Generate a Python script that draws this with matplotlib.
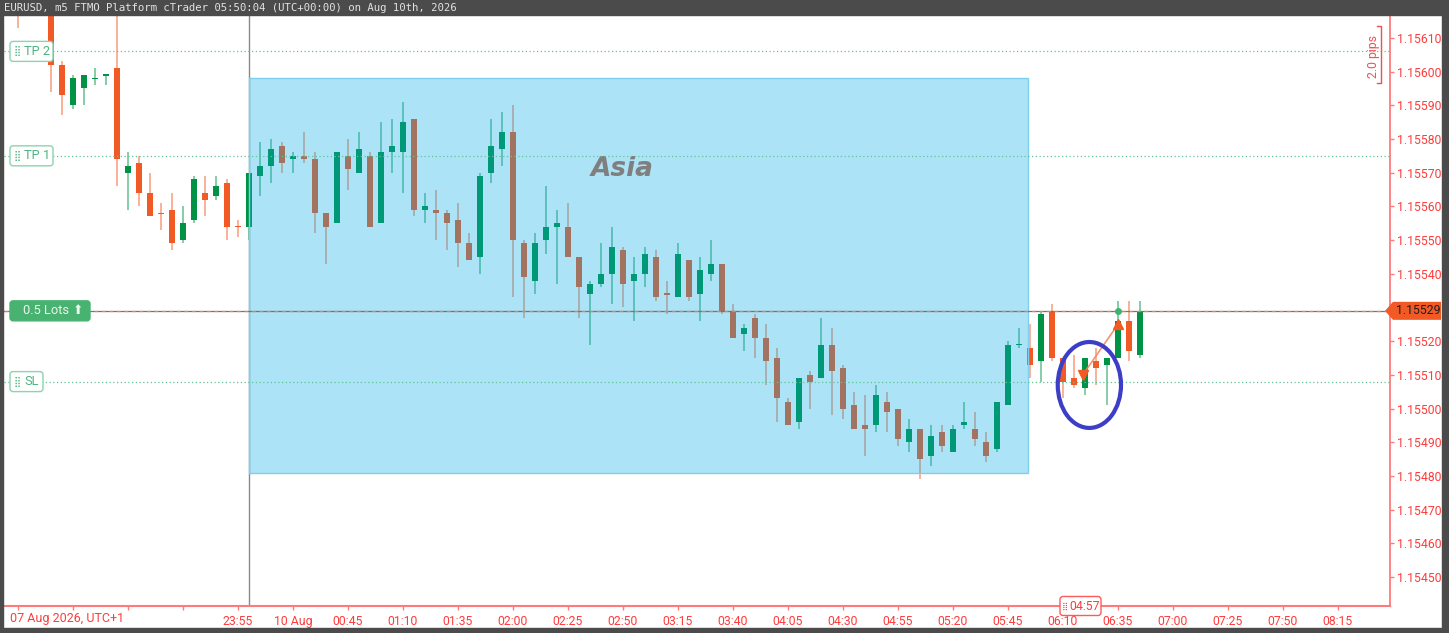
import matplotlib.pyplot as plt
from matplotlib.patches import Rectangle, Ellipse, Polygon, FancyBboxPatch
from matplotlib.transforms import Affine2D, blended_transform_factory

# EURUSD m5 candles, index 0 = 22:15 (07 Aug), index 21 = 00:00 (10 Aug)
opens = [1.15630, 1.15622, 1.15635, 1.15640, 1.15602, 1.15590, 1.15595, 1.15598, 1.15599, 1.15601,
         1.15570, 1.15573, 1.15564, 1.15558, 1.15559, 1.15550, 1.15556, 1.15564, 1.15563, 1.15567,
         1.15554, 1.15554, 1.15569, 1.15572, 1.15578, 1.15574, 1.15575, 1.15574, 1.15558, 1.15555,
         1.15575, 1.15570, 1.15575, 1.15555, 1.15576, 1.15576, 1.15586, 1.15559, 1.15559, 1.15558,
         1.15556, 1.15549, 1.15545, 1.15570, 1.15577, 1.15582, 1.15549, 1.15538, 1.15550, 1.15554,
         1.15554, 1.15545, 1.15534, 1.15537, 1.15540, 1.15547, 1.15538, 1.15540, 1.15545, 1.15534,
         1.15533, 1.15544, 1.15534, 1.15540, 1.15543, 1.15529, 1.15522, 1.15527, 1.15521, 1.15515,
         1.15502, 1.15496, 1.15510, 1.15509, 1.15519, 1.15512, 1.15501, 1.15495, 1.15495, 1.15502,
         1.15500, 1.15490, 1.15494, 1.15486, 1.15493, 1.15487, 1.15495, 1.15494, 1.15490, 1.15488,
         1.15501, 1.15519, 1.15518, 1.15514, 1.15529, 1.15515, 1.15509, 1.15506, 1.15514, 1.15513,
         1.15515, 1.15526, 1.15516]
highs = [1.15635, 1.15640, 1.15645, 1.15645, 1.15603, 1.15599, 1.15599, 1.15601, 1.15599, 1.15618,
         1.15576, 1.15575, 1.15570, 1.15561, 1.15564, 1.15560, 1.15569, 1.15569, 1.15569, 1.15568,
         1.15556, 1.15570, 1.15579, 1.15580, 1.15579, 1.15576, 1.15582, 1.15576, 1.15558, 1.15576,
         1.15580, 1.15582, 1.15576, 1.15585, 1.15586, 1.15591, 1.15586, 1.15564, 1.15565, 1.15559,
         1.15561, 1.15552, 1.15570, 1.15586, 1.15588, 1.15590, 1.15550, 1.15552, 1.15566, 1.15559,
         1.15561, 1.15545, 1.15538, 1.15549, 1.15554, 1.15548, 1.15545, 1.15548, 1.15547, 1.15538,
         1.15549, 1.15544, 1.15545, 1.15550, 1.15543, 1.15531, 1.15525, 1.15528, 1.15525, 1.15518,
         1.15503, 1.15509, 1.15511, 1.15527, 1.15524, 1.15513, 1.15505, 1.15504, 1.15507, 1.15505,
         1.15500, 1.15497, 1.15494, 1.15495, 1.15495, 1.15495, 1.15502, 1.15499, 1.15493, 1.15502,
         1.15520, 1.15524, 1.15525, 1.15529, 1.15531, 1.15515, 1.15516, 1.15515, 1.15518, 1.15515,
         1.15532, 1.15532, 1.15532]
lows = [1.15613, 1.15618, 1.15625, 1.15594, 1.15587, 1.15589, 1.15590, 1.15596, 1.15596, 1.15566,
        1.15559, 1.15560, 1.15557, 1.15553, 1.15547, 1.15549, 1.15555, 1.15557, 1.15562, 1.15550,
        1.15551, 1.15550, 1.15563, 1.15567, 1.15570, 1.15570, 1.15573, 1.15552, 1.15543, 1.15555,
        1.15565, 1.15570, 1.15554, 1.15555, 1.15570, 1.15564, 1.15557, 1.15555, 1.15550, 1.15547,
        1.15542, 1.15544, 1.15540, 1.15567, 1.15572, 1.15533, 1.15527, 1.15534, 1.15546, 1.15537,
        1.15545, 1.15527, 1.15519, 1.15536, 1.15531, 1.15530, 1.15526, 1.15536, 1.15532, 1.15528,
        1.15533, 1.15532, 1.15526, 1.15538, 1.15528, 1.15521, 1.15517, 1.15515, 1.15507, 1.15496,
        1.15495, 1.15494, 1.15500, 1.15509, 1.15498, 1.15497, 1.15494, 1.15486, 1.15493, 1.15493,
        1.15489, 1.15487, 1.15479, 1.15483, 1.15487, 1.15487, 1.15494, 1.15489, 1.15484, 1.15487,
        1.15501, 1.15518, 1.15509, 1.15508, 1.15514, 1.15503, 1.15506, 1.15504, 1.15507, 1.15501,
        1.15515, 1.15514, 1.15515]
closes = [1.15622, 1.15635, 1.15640, 1.15602, 1.15593, 1.15598, 1.15599, 1.15598, 1.15599, 1.15574,
          1.15572, 1.15564, 1.15557, 1.15558, 1.15549, 1.15555, 1.15568, 1.15562, 1.15566, 1.15554,
          1.15554, 1.15570, 1.15572, 1.15577, 1.15573, 1.15575, 1.15574, 1.15558, 1.15554, 1.15576,
          1.15571, 1.15577, 1.15554, 1.15576, 1.15578, 1.15585, 1.15559, 1.15560, 1.15558, 1.15555,
          1.15549, 1.15544, 1.15569, 1.15578, 1.15582, 1.15550, 1.15539, 1.15549, 1.15554, 1.15555,
          1.15545, 1.15536, 1.15537, 1.15540, 1.15548, 1.15537, 1.15540, 1.15546, 1.15533, 1.15534,
          1.15546, 1.15533, 1.15541, 1.15543, 1.15529, 1.15521, 1.15524, 1.15521, 1.15514, 1.15503,
          1.15495, 1.15509, 1.15508, 1.15519, 1.15511, 1.15500, 1.15494, 1.15494, 1.15504, 1.15499,
          1.15491, 1.15494, 1.15485, 1.15492, 1.15489, 1.15494, 1.15496, 1.15491, 1.15486, 1.15502,
          1.15519, 1.15519, 1.15513, 1.15528, 1.15515, 1.15508, 1.15507, 1.15515, 1.15512, 1.15515,
          1.15526, 1.15517, 1.15529]
doji_green = [7, 8, 91]

time_ticks = list(range(0, 121, 5))
time_labels = ['', '', '', '', '23:55', '10 Aug', '00:45', '01:10', '01:35', '02:00', '02:25',
               '02:50', '03:15', '03:40', '04:05', '04:30', '04:55', '05:20', '05:45', '06:10',
               '06:35', '07:00', '07:25', '07:50', '08:15']
price_ticks = [1.15450, 1.15460, 1.15470, 1.15480, 1.15490, 1.15500, 1.15510, 1.15520,
               1.15530, 1.15540, 1.15550, 1.15560, 1.15570, 1.15580, 1.15590, 1.15600, 1.15610]

current_price = 1.15529
tp2_price = 1.15606
tp1_price = 1.15575
sl_price = 1.15508

session_start, session_end = 21, 91.8
session_low, session_high = 1.15481, 1.15598

trade_x = [96.8, 100]
trade_y = [1.15510, 1.15525]
circle_center = (97.4, 1.15507)
circle_size = (5.75, 0.000255)

bull = '#009245'
bear = '#f15a24'
red_axis = '#ff7b7b'
red_text = '#ff3b3b'

plt.rcParams['font.family'] = ['Roboto', 'DejaVu Sans']

W, H = 1449, 633
fig = plt.figure(figsize=(W / 100, H / 100), dpi=100)
fig.patch.set_facecolor('white')
ax = fig.add_axes([4 / W, 1 - 606 / H, (1390 - 4) / W, (606 - 15) / H])
ax.set_xlim(-1.273, 124.73)
ax.set_ylim(1.154414, 1.156168)
px = Affine2D().scale(1 / W, 1 / H) + fig.transFigure

# candles
for i in range(len(opens)):
    o, h, l, c = opens[i], highs[i], lows[i], closes[i]
    up = c > o or (c == o and i in doji_green)
    col = bull if up else bear
    ax.vlines(i, l, h, color=col, lw=1.2, alpha=0.55, zorder=2)
    body = max(abs(c - o), 0.35e-5)
    ax.bar(i, body, width=0.62, bottom=min(o, c) - (body - abs(c - o)) / 2,
           color=col, linewidth=0, zorder=3)

# weekend separator and Asia session box
ax.axvline(session_start, color='#8a8a8a', lw=1, zorder=1.5)
ax.add_patch(Rectangle((session_start, session_low), session_end - session_start,
                       session_high - session_low, facecolor='#00aae6', alpha=0.32,
                       edgecolor='none', zorder=4))
ax.add_patch(Rectangle((session_start, session_low), session_end - session_start,
                       session_high - session_low, fill=False, edgecolor='#7fd0ef',
                       lw=1, zorder=4))
ax.text((session_start + session_end) / 2 - 1.5, 1.15571, 'Asia', fontsize=19,
        family='DejaVu Sans', weight='bold', style='oblique', color='#7f7f7f',
        ha='center', va='center', zorder=5)

# levels
for lvl in [tp2_price, tp1_price, sl_price]:
    ax.axhline(lvl, color='#62c496', lw=0.9, ls=(0, (1, 2)), zorder=5)
ax.axhline(current_price, color='#7d7262', lw=0.9, zorder=5)
ax.axhline(current_price, color='#f07a5a', lw=0.9, ls=(0, (3, 3)), zorder=5)

# trade marks
ax.plot(trade_x, trade_y, color='#f28a60', lw=1.2, alpha=0.9, zorder=6)
ax.plot(trade_x[0], trade_y[0], marker='v', ms=7, color='#f15a24', zorder=7)
ax.plot(trade_x[1], trade_y[1], marker='^', ms=7, color='#f15a24', zorder=7)
ax.plot(trade_x[1], current_price, marker='o', ms=4, color='#3cb371', zorder=7)
ax.add_patch(Ellipse(circle_center, circle_size[0], circle_size[1], fill=False,
                     edgecolor='#3c3ec8', lw=3, zorder=8))

# axes styling
ax.set_xticks(time_ticks)
ax.set_xticklabels(time_labels)
ax.yaxis.tick_right()
ax.set_yticks(price_ticks)
ax.set_yticklabels([f'{p:.5f}' for p in price_ticks])
ax.tick_params(axis='both', colors=red_axis, labelcolor=red_text, length=3, width=1,
               labelsize=8.8)
ax.tick_params(axis='x', pad=3.5)
ax.tick_params(axis='y', pad=2)
for s in ['left', 'top']:
    ax.spines[s].set_visible(False)
ax.spines['right'].set_color(red_axis)
ax.spines['right'].set_linewidth(1.3)
ax.spines['bottom'].set_color(red_axis)
ax.spines['bottom'].set_linewidth(1.5)
ax.annotate('07 Aug 2026, UTC+1', xy=(0, 0), xycoords='axes fraction', xytext=(4.5, -9.3),
            textcoords='offset points', va='center', ha='left', fontsize=9, color=red_text)


def tag(price, label, x0, x1, fc, ec, tc, grip=True):
    yc = ax.transData.transform((0, price))[1]
    fig.add_artist(FancyBboxPatch((x0, yc - 10), x1 - x0, 20,
                                  boxstyle='round,pad=0,rounding_size=3', transform=px,
                                  fc=fc, ec=ec, lw=1, zorder=12))
    tx = x0 + 4
    if grip:
        fig.text(tx / W, yc / H, '⣿', fontsize=7, color=tc, va='center', ha='left',
                 family='DejaVu Sans', zorder=13)
        tx += 10
    fig.text(tx / W, yc / H, label, fontsize=9.3, color=tc, va='center', ha='left', zorder=13)


tag(tp2_price, 'TP 2', 10, 53, 'white', '#8dd3ae', '#4fb381')
tag(tp1_price, 'TP 1', 10, 53, 'white', '#8dd3ae', '#4fb381')
tag(sl_price, 'SL', 10, 43, 'white', '#8dd3ae', '#4fb381')
tag(current_price, '', 10, 90, '#48b270', '#48b270', 'white', grip=False)
yc = ax.transData.transform((0, current_price))[1]
fig.text(23 / W, yc / H, '0.5 Lots', fontsize=9.3, color='#eaf6ee', va='center', zorder=13)
fig.text(73 / W, yc / H, '⬆', fontsize=9, color='#eaf6ee', va='center',
         family='DejaVu Sans', zorder=13)

# countdown tag on time axis
yb = ax.transAxes.transform((0, 0))[1]
fig.add_artist(FancyBboxPatch((1060, yb - 9.5), 41, 19, boxstyle='round,pad=0,rounding_size=3',
                              transform=px, fc='white', ec='#ff5a5a', lw=1, zorder=12))
fig.text(1062 / W, yb / H, '⣿', fontsize=6, color=red_text, va='center', family='DejaVu Sans',
         zorder=13)
fig.text(1069 / W, yb / H, '04:57', fontsize=8.8, color=red_text, va='center', zorder=13)

# current price flag on the price axis
trans = blended_transform_factory(fig.transFigure, ax.transData)
dy = 9 * (ax.get_ylim()[1] - ax.get_ylim()[0]) / 591
fig.add_artist(Polygon([(1385 / W, current_price), (1393 / W, current_price + dy),
                        (1441 / W, current_price + dy), (1441 / W, current_price - dy),
                        (1393 / W, current_price - dy)], closed=True, transform=trans,
                       fc='#f15a24', ec='none', zorder=12))
fig.text(1396 / W, current_price, f'{current_price:.5f}', transform=trans, fontsize=8.8,
         color='#1e1e1e', va='center', ha='left', zorder=13)

# 2.0 pips bracket
fig.add_artist(plt.Line2D([1377, 1381, 1381, 1377], [H - 26, H - 26, H - 83, H - 83],
                          transform=px, color='#ef5050', lw=1, zorder=12))
fig.text(1373 / W, (H - 56) / H, '2.0 pips', rotation=90, fontsize=8.8, color='#ef5050',
         va='center', ha='center', zorder=13)

# window frame and header
frame = '#4b4b4b'
for r in [(0, H - 15, W, 15), (0, 0, 3, H), (1442, 0, 7, H), (0, 0, W, 5)]:
    fig.add_artist(Rectangle((r[0], r[1]), r[2], r[3], transform=px, color=frame, zorder=20))
fig.text(4 / W, (H - 8) / H,
         'EURUSD, m5 FTMO Platform cTrader 05:50:04 (UTC+00:00) on Aug 10th, 2026',
         family='DejaVu Sans Mono', fontsize=7.7, color='#e2e2e2', va='center', zorder=21)

fig.savefig('out.png', dpi=100)
